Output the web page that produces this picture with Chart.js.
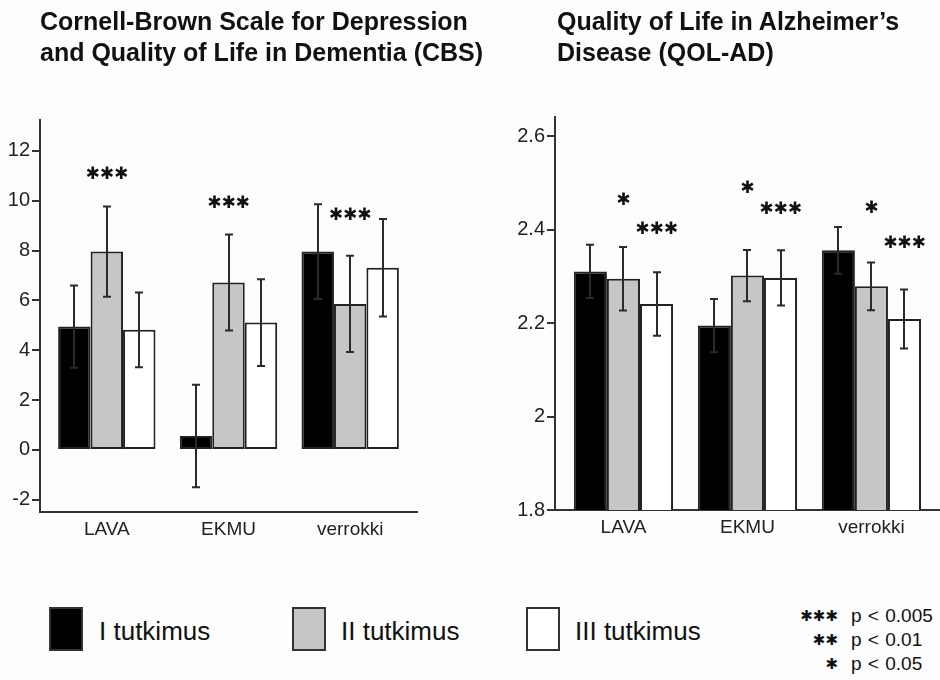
<!DOCTYPE html>
<html>
<head>
<meta charset="utf-8">
<script src="https://cdn.jsdelivr.net/npm/chart.js@4.4.1/dist/chart.umd.min.js"></script>
<style>
  html, body { margin: 0; padding: 0; background: #fdfdfd; }
  #wrap { position: relative; width: 940px; height: 680px; overflow: hidden;
          font-family: "Liberation Sans", Arial, sans-serif; color: #111; }
  canvas { position: absolute; top: 0; }
  .title { position: absolute; top: 6px; font-weight: bold; font-size: 25px; line-height: 31px; white-space: nowrap; }
  .lg-box { position: absolute; top: 607px; width: 34px; height: 44px; box-sizing: border-box; border: 2px solid #333; }
  .lg-text { position: absolute; top: 618px; font-size: 26px; line-height: 26px; white-space: nowrap; }
  .sig-mark { position: absolute; right: 102px; font-family: "DejaVu Sans", sans-serif; font-size: 15px; line-height: 20px; white-space: nowrap; }
  .sig-text { position: absolute; left: 851px; font-size: 19px; line-height: 20px; word-spacing: 1px; white-space: nowrap; }
</style>
</head>
<body>
<div id="wrap">
  <canvas id="cbs" width="470" height="600" style="left:0"></canvas>
  <canvas id="qol" width="470" height="600" style="left:470px"></canvas>

  <div class="title" style="left:40px">Cornell-Brown Scale for Depression<br>and Quality of Life in Dementia (CBS)</div>
  <div class="title" style="left:557px">Quality of Life in Alzheimer’s<br>Disease (QOL-AD)</div>

  <div class="lg-box" style="left:49px;background:#000"></div>
  <div class="lg-text" style="left:99px">I tutkimus</div>
  <div class="lg-box" style="left:292px;background:#c6c6c6"></div>
  <div class="lg-text" style="left:341px">II tutkimus</div>
  <div class="lg-box" style="left:526px;background:#fff"></div>
  <div class="lg-text" style="left:575px">III tutkimus</div>

  <div class="sig-mark" style="top:606px">✱✱✱</div><div class="sig-text" style="top:606px">p &lt; 0.005</div>
  <div class="sig-mark" style="top:630px">✱✱</div><div class="sig-text" style="top:630px">p &lt; 0.01</div>
  <div class="sig-mark" style="top:654px">✱</div><div class="sig-text" style="top:654px">p &lt; 0.05</div>
</div>

<script>
// Groups and measurement rounds
const categories = ['LAVA', 'EKMU', 'verrokki'];
const seriesNames = ['I tutkimus', 'II tutkimus', 'III tutkimus'];
const seriesColors = ['#000000', '#c6c6c6', '#ffffff'];

// CBS: means and error half-widths per round
const cbsI = [4.95, 0.56, 7.96];
const cbsII = [7.96, 6.72, 5.86];
const cbsIII = [4.82, 5.11, 7.31];
const cbsErrI = [1.65, 2.06, 1.90];
const cbsErrII = [1.81, 1.93, 1.93];
const cbsErrIII = [1.50, 1.74, 1.96];
const cbsTicks = [-2, 0, 2, 4, 6, 8, 10, 12];
// significance of round II, and the value level where the mark sits
const cbsSigII = ['***', '***', '***'];
const cbsSigIIAt = [11.05, 9.88, 9.40];

// QOL-AD: means and error half-widths per round
const qolI = [2.311, 2.195, 2.356];
const qolII = [2.295, 2.302, 2.279];
const qolIII = [2.241, 2.297, 2.209];
const qolErrI = [0.057, 0.057, 0.050];
const qolErrII = [0.068, 0.055, 0.051];
const qolErrIII = [0.068, 0.059, 0.063];
const qolTicks = [1.8, 2, 2.2, 2.4, 2.6];
const qolSigII = ['*', '*', '*'];
const qolSigIIAt = [2.462, 2.488, 2.446];
const qolSigIII = ['***', '***', '***'];
const qolSigIIIAt = [2.401, 2.443, 2.370];

const AXIS = '#333';
const TEXT = '#222';
const FONT = 'Liberation Sans';

// error bars and significance asterisks drawn on top of the bars
function marksPlugin(errs, sigs) {
  return {
    id: 'marks',
    afterDatasetsDraw(chart) {
      const ctx = chart.ctx, y = chart.scales.y;
      ctx.save();
      ctx.strokeStyle = '#2a2a2a';
      ctx.lineWidth = 2;
      errs.forEach((err, d) => {
        const meta = chart.getDatasetMeta(d);
        meta.data.forEach((bar, i) => {
          const v = chart.data.datasets[d].data[i].y;
          const top = y.getPixelForValue(v + err[i]);
          const bot = y.getPixelForValue(v - err[i]);
          const x = Math.round(bar.x);
          ctx.beginPath();
          ctx.moveTo(x, top); ctx.lineTo(x, bot);
          ctx.moveTo(x - 4, top); ctx.lineTo(x + 4, top);
          ctx.moveTo(x - 4, bot); ctx.lineTo(x + 4, bot);
          ctx.stroke();
        });
      });
      ctx.fillStyle = '#111';
      ctx.textAlign = 'center';
      ctx.textBaseline = 'middle';
      ctx.font = '17px "DejaVu Sans"';
      sigs.forEach(s => {
        const meta = chart.getDatasetMeta(s.series);
        s.marks.forEach((m, i) => {
          if (!m) return;
          ctx.fillText(m.replace(/\*/g, '\u2731'), meta.data[i].x, y.getPixelForValue(s.at[i]));
        });
      });
      ctx.restore();
    }
  };
}

function makeChart(id, values, opt, plugin) {
  return new Chart(document.getElementById(id), {
    type: 'bar',
    data: {
      datasets: seriesNames.map((name, d) => ({
        label: name,
        data: values[d].map((v, i) => ({ x: i, y: v })),
        backgroundColor: seriesColors[d],
        borderColor: '#222',
        borderWidth: 2,
        borderSkipped: false,
        categoryPercentage: 0.8,
        barPercentage: 1.0
      }))
    },
    options: {
      responsive: false,
      animation: false,
      devicePixelRatio: 1,
      layout: { padding: opt.padding },
      plugins: { legend: { display: false }, tooltip: { enabled: false } },
      scales: {
        x: {
          type: 'linear',
          min: opt.xMin, max: opt.xMax,
          offset: false,
          grid: { display: false, drawTicks: false },
          border: { display: true, color: AXIS, width: 2 },
          afterBuildTicks: s => { s.ticks = categories.map((c, i) => ({ value: i })); },
          afterFit: s => { s.height = opt.xHeight; },
          ticks: {
            callback: v => categories[v],
            font: { family: FONT, size: 19 }, color: TEXT,
            padding: 6, maxRotation: 0, autoSkip: false
          }
        },
        y: {
          min: opt.yMin, max: opt.yMax,
          afterBuildTicks: s => { s.ticks = opt.ticks.map(v => ({ value: v })); },
          afterFit: s => { s.width = opt.yWidth; },
          grid: { drawOnChartArea: false, drawTicks: true, tickLength: 8, color: AXIS, lineWidth: 2 },
          border: { display: true, color: AXIS, width: 2 },
          ticks: {
            callback: v => String(v),
            font: { family: FONT, size: 20 }, color: TEXT, padding: 2
          }
        }
      }
    },
    plugins: [plugin]
  });
}

makeChart('cbs', [cbsI, cbsII, cbsIII], {
  padding: { top: 120, left: 0, right: 53, bottom: 0 },
  yWidth: 40, xHeight: 88,
  yMin: -2.49, yMax: 13.24, ticks: cbsTicks,
  xMin: -0.549, xMax: 2.549
}, marksPlugin([cbsErrI, cbsErrII, cbsErrIII], [
  { series: 1, marks: cbsSigII, at: cbsSigIIAt }
]));

makeChart('qol', [qolI, qolII, qolIII], {
  padding: { top: 117, left: 0, right: 0, bottom: 0 },
  yWidth: 85, xHeight: 90,
  yMin: 1.8, yMax: 2.6416, ticks: qolTicks,
  xMin: -0.552, xMax: 2.553
}, marksPlugin([qolErrI, qolErrII, qolErrIII], [
  { series: 1, marks: qolSigII, at: qolSigIIAt },
  { series: 2, marks: qolSigIII, at: qolSigIIIAt }
]));
</script>
</body>
</html>
